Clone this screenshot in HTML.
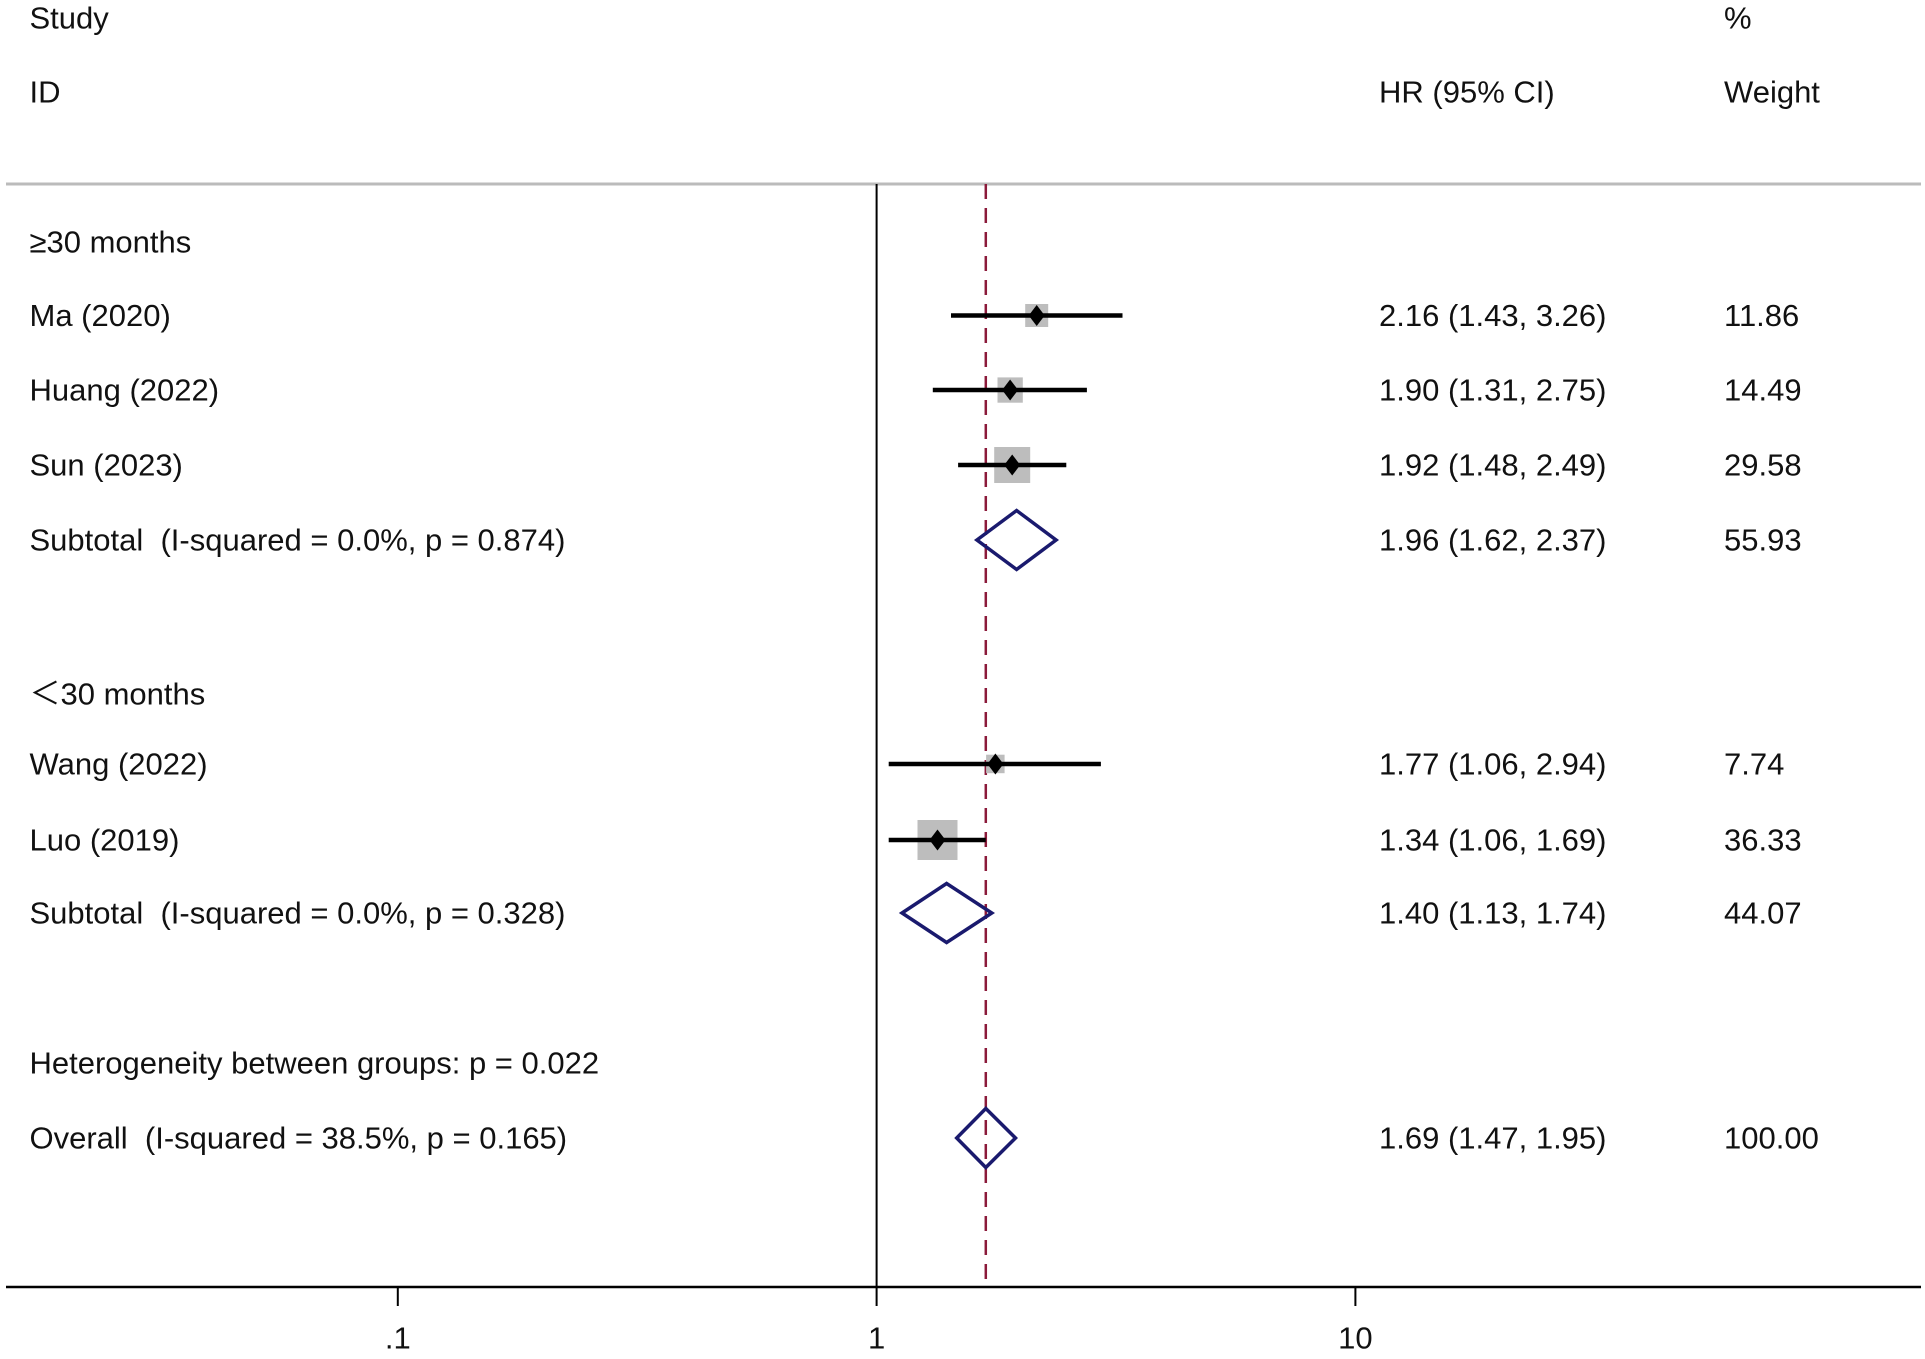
<!DOCTYPE html>
<html><head><meta charset="utf-8"><style>body{margin:0;background:#fff}svg{display:block}text{font-family:"Liberation Sans",Arial,sans-serif;font-size:31px;fill:#111;dominant-baseline:central}</style></head><body>
<svg width="1925" height="1359" viewBox="0 0 1925 1359" xmlns="http://www.w3.org/2000/svg">
<rect width="1925" height="1359" fill="#fff"/>
<line x1="6" y1="184" x2="1921" y2="184" stroke="#bbb" stroke-width="3"/>
<line x1="6" y1="1287" x2="1921" y2="1287" stroke="#000" stroke-width="2.5"/>
<line x1="876.6" y1="184" x2="876.6" y2="1287" stroke="#000" stroke-width="2"/>
<line x1="985.8" y1="184" x2="985.8" y2="1287" stroke="#8b1a3a" stroke-width="2.5" stroke-dasharray="15,9"/>
<g stroke="#000" stroke-width="2"><line x1="397.8" y1="1287" x2="397.8" y2="1306"/><line x1="876.6" y1="1287" x2="876.6" y2="1306"/><line x1="1355.4" y1="1287" x2="1355.4" y2="1306"/></g>
<text x="397.8" y="1338" text-anchor="middle">.1</text>
<text x="876.6" y="1338" text-anchor="middle">1</text>
<text x="1355.4" y="1338" text-anchor="middle">10</text>
<text x="29.5" y="18">Study</text><text x="1724" y="18">%</text>
<text x="29.5" y="92">ID</text><text x="1379" y="92">HR (95% CI)</text><text x="1724" y="92">Weight</text>
<text x="29.5" y="242">≥30 months</text>
<text x="29.5" y="315.5">Ma (2020)</text><text x="1379" y="315.5">2.16 (1.43, 3.26)</text><text x="1724" y="315.5">11.86</text>
<text x="29.5" y="390">Huang (2022)</text><text x="1379" y="390">1.90 (1.31, 2.75)</text><text x="1724" y="390">14.49</text>
<text x="29.5" y="465">Sun (2023)</text><text x="1379" y="465">1.92 (1.48, 2.49)</text><text x="1724" y="465">29.58</text>
<text x="29.5" y="540" xml:space="preserve">Subtotal  (I-squared = 0.0%, p = 0.874)</text><text x="1379" y="540">1.96 (1.62, 2.37)</text><text x="1724" y="540">55.93</text>
<text x="29.5" y="694">＜30 months</text>
<text x="29.5" y="764">Wang (2022)</text><text x="1379" y="764">1.77 (1.06, 2.94)</text><text x="1724" y="764">7.74</text>
<text x="29.5" y="840">Luo (2019)</text><text x="1379" y="840">1.34 (1.06, 1.69)</text><text x="1724" y="840">36.33</text>
<text x="29.5" y="913" xml:space="preserve">Subtotal  (I-squared = 0.0%, p = 0.328)</text><text x="1379" y="913">1.40 (1.13, 1.74)</text><text x="1724" y="913">44.07</text>
<text x="29.5" y="1063">Heterogeneity between groups: p = 0.022</text>
<text x="29.5" y="1138" xml:space="preserve">Overall  (I-squared = 38.5%, p = 0.165)</text><text x="1379" y="1138">1.69 (1.47, 1.95)</text><text x="1724" y="1138">100.00</text>
<g fill="#bdbdbd">
<rect x="1025.2" y="304" width="23" height="23"/>
<rect x="997.5" y="377.4" width="25.3" height="25.3"/>
<rect x="994.2" y="447" width="36" height="36"/>
<rect x="986.1" y="754.7" width="18.5" height="18.5"/>
<rect x="917.5" y="820" width="40" height="40"/>
</g>
<g stroke="#000" stroke-width="4.5">
<line x1="951" y1="315.5" x2="1122.5" y2="315.5"/>
<line x1="932.8" y1="390" x2="1086.9" y2="390"/>
<line x1="958.1" y1="465" x2="1066.3" y2="465"/>
<line x1="888.7" y1="764" x2="1100.9" y2="764"/>
<line x1="888.7" y1="840" x2="985.8" y2="840"/>
</g>
<g fill="#000">
<path d="M1036.7 305l8 10.5l-8 10.5l-8-10.5z"/>
<path d="M1010.1 379.5l8 10.5l-8 10.5l-8-10.5z"/>
<path d="M1012.2 454.5l8 10.5l-8 10.5l-8-10.5z"/>
<path d="M995.4 753.5l8 10.5l-8 10.5l-8-10.5z"/>
<path d="M937.5 829.5l8 10.5l-8 10.5l-8-10.5z"/>
</g>
<g fill="none" stroke="#1a1a6e" stroke-width="3.5">
<path d="M976.9 540L1016.6 510.5L1056.1 540L1016.6 569.5Z"/>
<path d="M902 913L946.6 883.5L991.8 913L946.6 942.5Z"/>
<path d="M956.7 1138L985.8 1108.5L1015.5 1138L985.8 1167.5Z"/>
</g>
</svg>
</body></html>
